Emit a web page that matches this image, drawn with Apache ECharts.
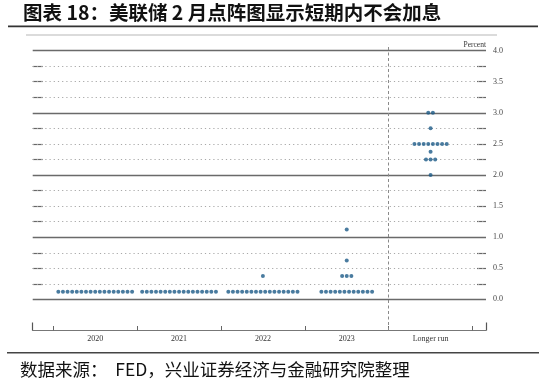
<!DOCTYPE html>
<html><head><meta charset="utf-8">
<script src="https://cdn.jsdelivr.net/npm/echarts@6/dist/echarts.min.js"></script>
<style>html,body{margin:0;padding:0;background:#fff}#c{width:550px;height:383px}</style>
</head><body><div id="c"></div>
<script>
var titleText = '图表 18：美联储 2 月点阵图显示短期内不会加息';
var sourceText = '数据来源：  FED，兴业证券经济与金融研究院整理';
var categories = ['2020', '2021', '2022', '2023', 'Longer run'];
// [rate, number of participants] per category
var dots2020 = [[0.125, 17]];
var dots2021 = [[0.125, 17]];
var dots2022 = [[0.125, 16], [0.375, 1]];
var dots2023 = [[0.125, 12], [0.375, 3], [0.625, 1], [1.125, 1]];
var dotsLonger = [[2.0, 1], [2.25, 3], [2.375, 1], [2.5, 8], [2.75, 1], [3.0, 2]];
var yTickLabels = [0, 0.5, 1, 1.5, 2, 2.5, 3, 3.5, 4];
var gridValues = [0, 0.25, 0.5, 0.75, 1, 1.25, 1.5, 1.75, 2, 2.25, 2.5, 2.75, 3, 3.25, 3.5, 3.75, 4];

var allDots = [dots2020, dots2021, dots2022, dots2023, dotsLonger];
var step = 0.055;
var points = [];
allDots.forEach(function (groups, ci) {
  groups.forEach(function (g) {
    var n = g[1];
    for (var j = 0; j < n; j++) {
      points.push([ci + (j - (n - 1) / 2) * step, g[0]]);
    }
  });
});

var markData = gridValues.map(function (v) {
  var solid = Math.abs(v - Math.round(v)) < 1e-9;
  return {
    yAxis: v,
    lineStyle: solid ? { color: '#6a6a6a', width: 1.3, type: 'solid' }
                     : { color: '#a8a8a8', width: 1, type: [1.2, 3] }
  };
});
markData.push({ xAxis: 3.5, lineStyle: { color: '#8a8a8a', width: 1, type: [3, 2.5] } });

var quarterTicks = gridValues.filter(function (v) { return Math.abs(v - Math.round(v)) > 1e-9; });
var xMin = -0.7457, xMax = 4.661;
var serif = '"Liberation Serif", "DejaVu Serif", serif';

var chart = echarts.init(document.getElementById('c'), null, { renderer: 'canvas' });
chart.setOption({
  animation: false,
  backgroundColor: '#fff',
  grid: { left: 32.7, right: 64, top: 44.4, bottom: 52.5 },
  xAxis: [{
    type: 'value', min: xMin, max: xMax, position: 'bottom',
    splitLine: { show: false },
    axisLine: { show: true, onZero: false, lineStyle: { color: '#777', width: 1 } },
    axisTick: { show: true, inside: true, length: 4.5, customValues: [-0.5, 0.5, 1.5, 2.5, 3.5, 4.5], lineStyle: { color: '#666' } },
    axisLabel: { customValues: [0, 1, 2, 3, 4], formatter: function (v) { return categories[Math.round(v)]; },
      fontFamily: serif, fontSize: 8, color: '#333', margin: 4 }
  }, {
    type: 'value', min: xMin, max: xMax, position: 'bottom',
    splitLine: { show: false }, axisLine: { show: false, onZero: false }, axisLabel: { show: false },
    axisTick: { show: true, inside: true, length: 8, customValues: [xMin, xMax], lineStyle: { color: '#555', width: 1.2 } }
  }],
  yAxis: [{
    type: 'value', min: -0.5, max: 4.1, position: 'right',
    splitLine: { show: false }, axisLine: { show: false, onZero: false },
    axisTick: { show: true, inside: true, length: 9, customValues: quarterTicks, lineStyle: { color: '#666', width: 1.2 } },
    axisLabel: { customValues: yTickLabels, formatter: function (v) { return v.toFixed(1); },
      fontFamily: serif, fontSize: 8, color: '#444', margin: 7 }
  }, {
    type: 'value', min: -0.5, max: 4.1, position: 'left',
    splitLine: { show: false }, axisLine: { show: false, onZero: false }, axisLabel: { show: false },
    axisTick: { show: true, inside: true, length: 10, customValues: quarterTicks, lineStyle: { color: '#666', width: 1.2 } }
  }],
  series: [{
    type: 'scatter', xAxisIndex: 0, yAxisIndex: 0,
    symbol: 'circle', symbolSize: 4,
    itemStyle: { color: '#1c5a87' },
    data: points, z: 5,
    markLine: { silent: true, symbol: 'none', label: { show: false }, data: markData, z: 1 }
  }],
  graphic: [
    { type: 'text', left: 23, top: 3, style: { text: titleText, fontFamily: '"Noto Sans CJK SC"', fontWeight: 'bold', fontSize: 19.5, fill: '#111' } },
    { type: 'line', shape: { x1: 8, y1: 26.3, x2: 538, y2: 26.3 }, style: { stroke: '#333', lineWidth: 1.8 } },
    { type: 'line', shape: { x1: 26, y1: 35, x2: 497, y2: 35 }, style: { stroke: '#cfcfcf', lineWidth: 1.5 } },
    { type: 'text', right: 64, top: 41, style: { text: 'Percent', fontFamily: serif, fontSize: 7.5, fill: '#333' } },
    { type: 'line', shape: { x1: 7, y1: 352.7, x2: 539, y2: 352.7 }, style: { stroke: '#444', lineWidth: 1.5 } },
    { type: 'text', left: 20, top: 361, style: { text: sourceText, fontFamily: '"Noto Sans CJK SC"', fontSize: 17.5, fill: '#111' } }
  ]
});
</script></body></html>
